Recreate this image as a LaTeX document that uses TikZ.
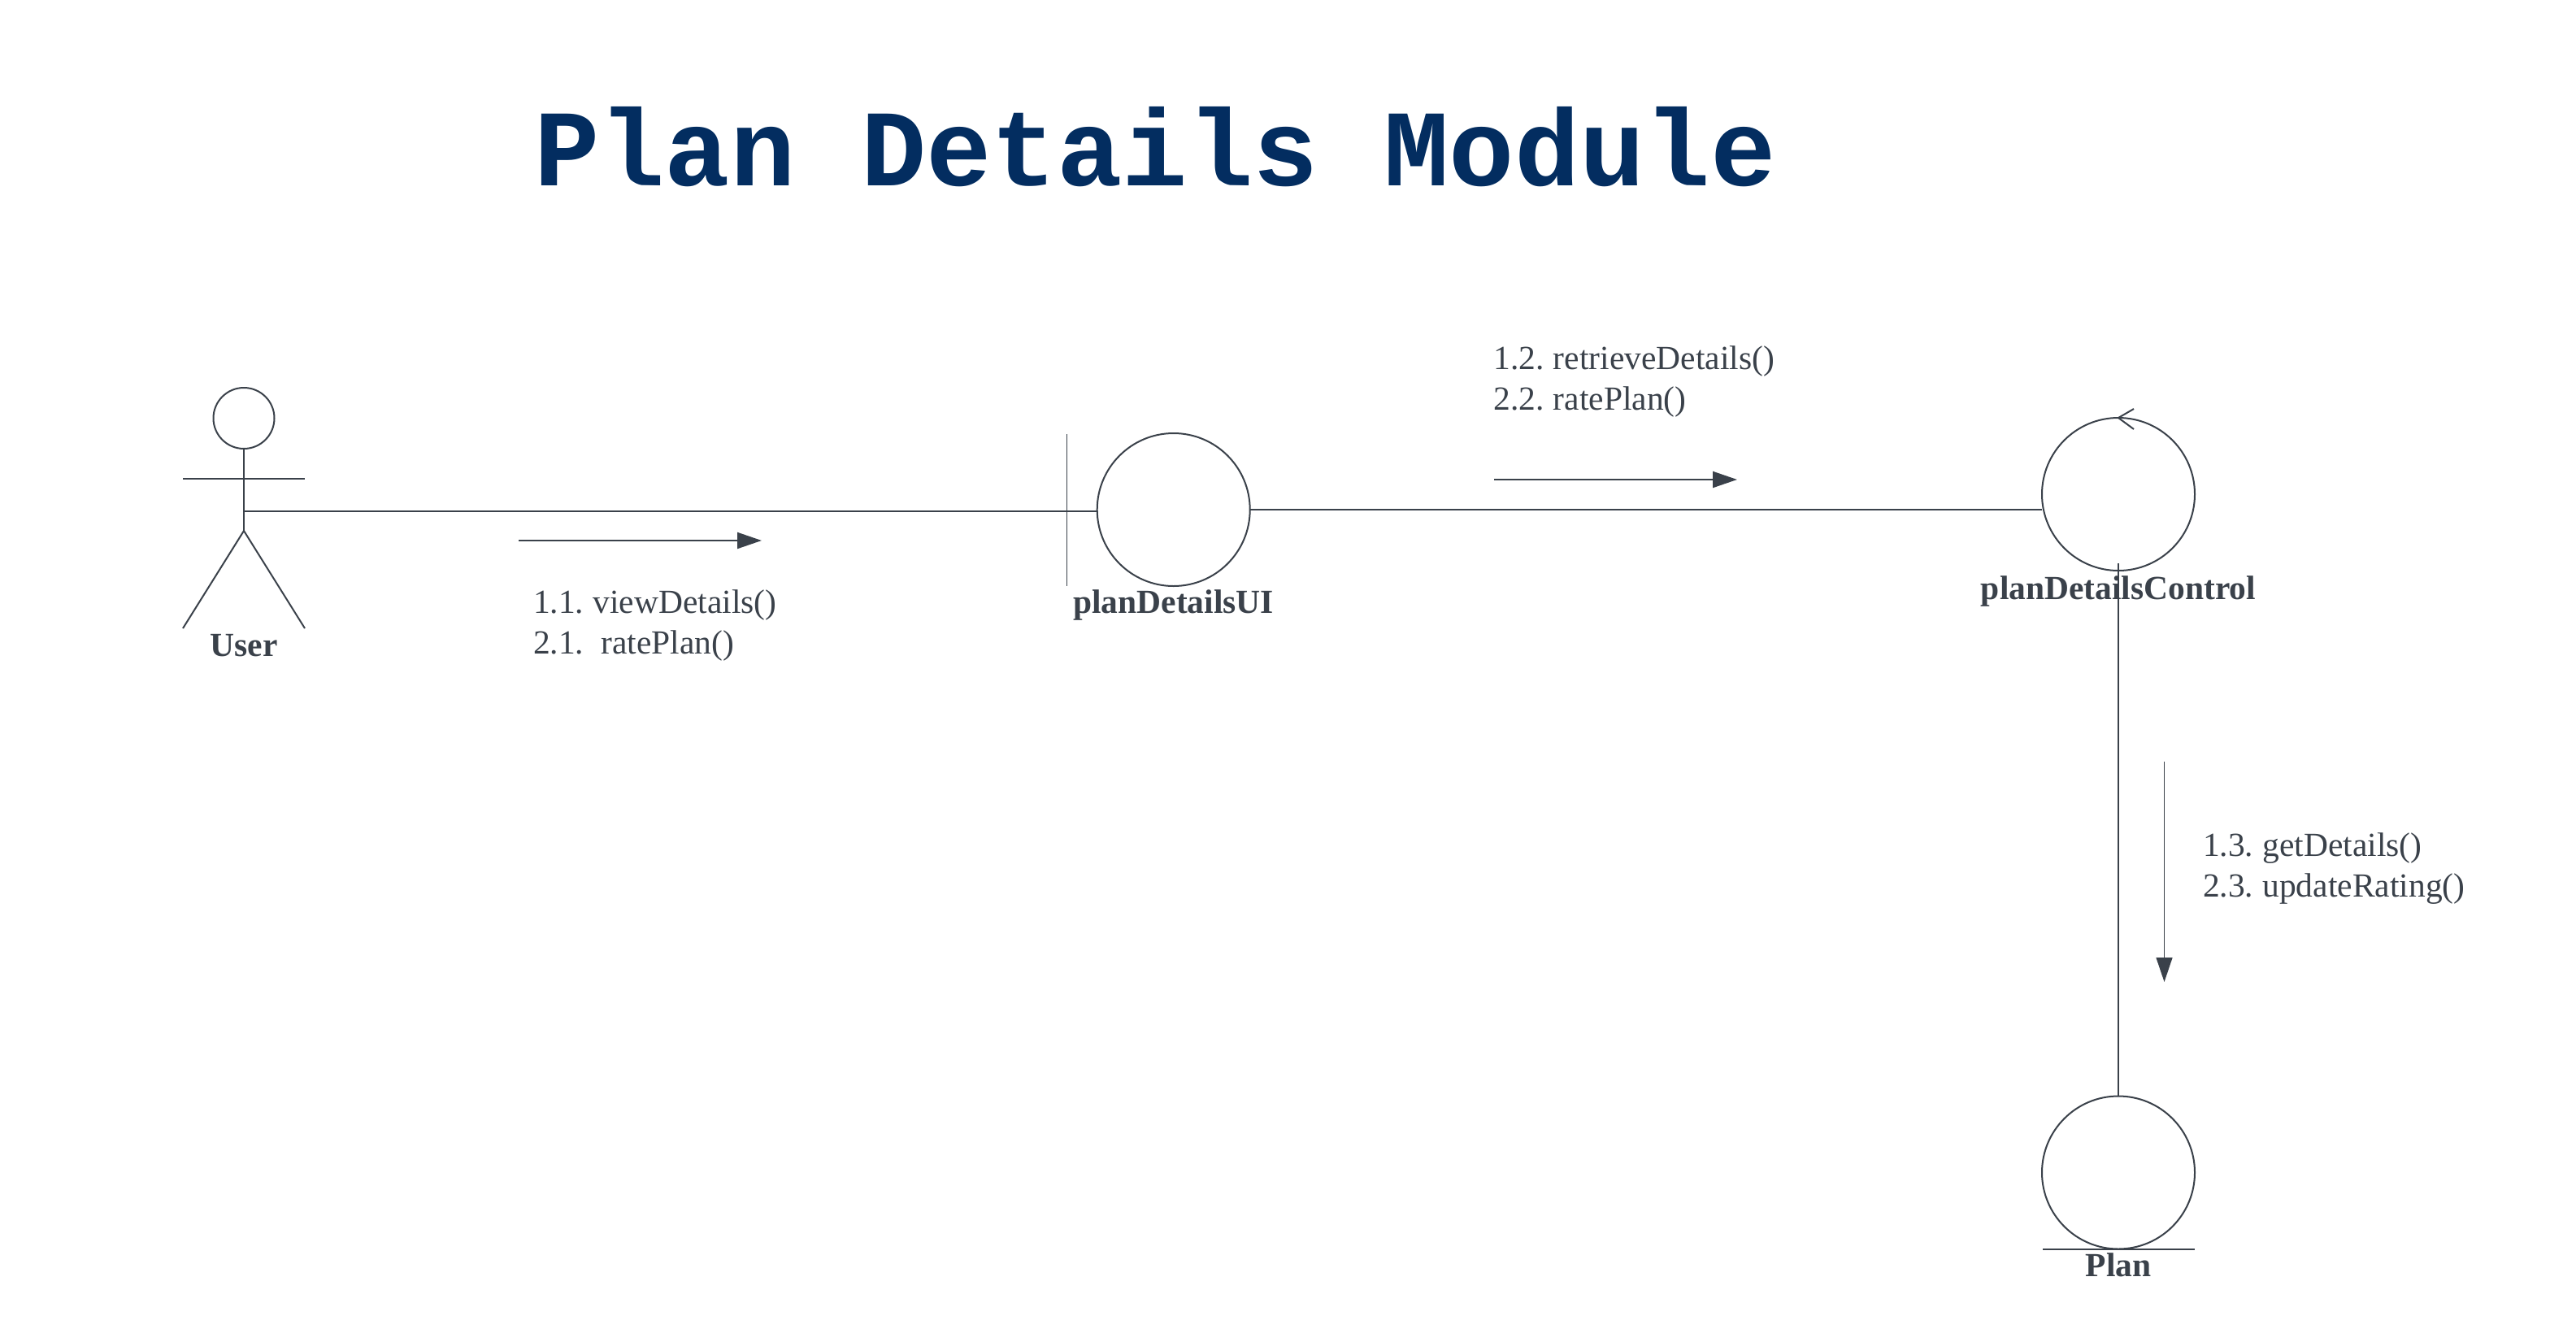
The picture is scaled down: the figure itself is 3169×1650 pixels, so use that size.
\documentclass[tikz,border=0pt]{standalone}
\usepackage{fontspec}
\setmainfont{Liberation Serif}
\setmonofont{Liberation Mono}
\newfontfamily\msgfamily[WordSpace=0.75]{Liberation Serif}
\usetikzlibrary{arrows.meta}
\definecolor{inkgray}{HTML}{3A414A}
\definecolor{titleblue}{HTML}{032D60}
\tikzstyle{every node}=[inner sep=0pt,outer sep=0pt,text=inkgray]
\tikzstyle{lifeline}=[draw=inkgray,line width=1pt,circle,minimum size=94pt]
\tikzstyle{msgtext}=[anchor=base west,align=left,font=\msgfamily\fontsize{20.75}{25}\selectfont]
\tikzstyle{objname}=[anchor=base,font=\fontsize{20.75}{25}\selectfont\bfseries]
\tikzstyle{stroke}=[draw=inkgray,line width=1pt]
\tikzstyle{hairline}=[draw=inkgray,line width=0.55pt]
\tikzstyle{msgarrow}=[draw=inkgray,line width=1pt,-{Triangle[length=15pt,width=10pt]}]

\begin{document}
\begin{tikzpicture}[x=0.5pt,y=-0.5pt]
      \useasboundingbox (0,0) rectangle (3169,1650);
      \node (title) [anchor=base west,text=titleblue,font=\fontsize{67}{70}\selectfont\ttfamily\bfseries]
          at (657,228) {Plan Details Module};
      % objects
      \node (userHead) [lifeline,minimum size=37.5pt] at (300,514.5) {};
      \node (planDetailsUI) [lifeline] at (1443.7,627) {};
      \node (planDetailsControl) [lifeline] at (2606,608) {};
      \node (plan) [lifeline] at (2606,1442.5) {};
      \node (userLabel) [objname] at (300,807) {User};
      \node (uiLabel) [objname] at (1443.7,754) {planDetailsUI};
      \node (controlLabel) [objname] at (2606,737) {planDetailsControl};
      \node (planLabel) [objname] at (2606,1570) {Plan};
      % messages
      \node (msgUser) [msgtext] at (656,804) {1.1. viewDetails()\\2.1.\hspace{1pt}~ ratePlan()};
      \node (msgControl) [msgtext] at (1837.5,504) {1.2. retrieveDetails()\\2.2. ratePlan()};
      \node (msgPlan) [msgtext] at (2710,1103) {1.3. getDetails()\\2.3. updateRating()};
      % actor
      \coordinate (userArmL) at (225,589);
      \coordinate (userArmR) at (375,589);
      \coordinate (userHip) at (300,653);
      \coordinate (userLegL) at (225,773);
      \coordinate (userLegR) at (375,773);
      \coordinate (userHand) at (300,628.5);
      \draw [stroke] (userHead.south) -- (userHip);
      \draw [stroke] (userArmL) -- (userArmR);
      \draw [stroke] (userLegL) -- (userHip) -- (userLegR);
      % stereotype marks
      \coordinate (uiBarTop) at (1312.5,534);
      \coordinate (uiBarBottom) at (1312.5,721);
      \coordinate (loopTop) at (2625,503);
      \coordinate (loopBottom) at (2625,528);
      \coordinate (planBarLeft) at (2513,1537);
      \coordinate (planBarRight) at (2700,1537);
      \draw [hairline] (uiBarTop) -- (uiBarBottom);
      \draw [stroke] (loopTop) -- (planDetailsControl.north) -- (loopBottom);
      \draw [stroke] (planBarLeft) -- (planBarRight);
      % links
      \coordinate (controlFoot) at (2606,693);
      \draw [stroke] (userHand) -- (userHand -| planDetailsUI.west);
      \draw [stroke] (planDetailsUI.east) -- (planDetailsControl.west |- planDetailsUI.east);
      \draw [stroke] (controlFoot) -- (plan.north);
      % message arrows
      \coordinate (arrowUserFrom) at (638,665);
      \coordinate (arrowUserTo) at (937,665);
      \coordinate (arrowControlFrom) at (1838,590);
      \coordinate (arrowControlTo) at (2137,590);
      \coordinate (arrowPlanFrom) at (2662.5,937);
      \coordinate (arrowPlanTo) at (2662.5,1208);
      \draw [msgarrow] (arrowUserFrom) -- (arrowUserTo);
      \draw [msgarrow] (arrowControlFrom) -- (arrowControlTo);
      \draw [msgarrow,line width=0.55pt] (arrowPlanFrom) -- (arrowPlanTo);
    \end{tikzpicture}
\end{document}
